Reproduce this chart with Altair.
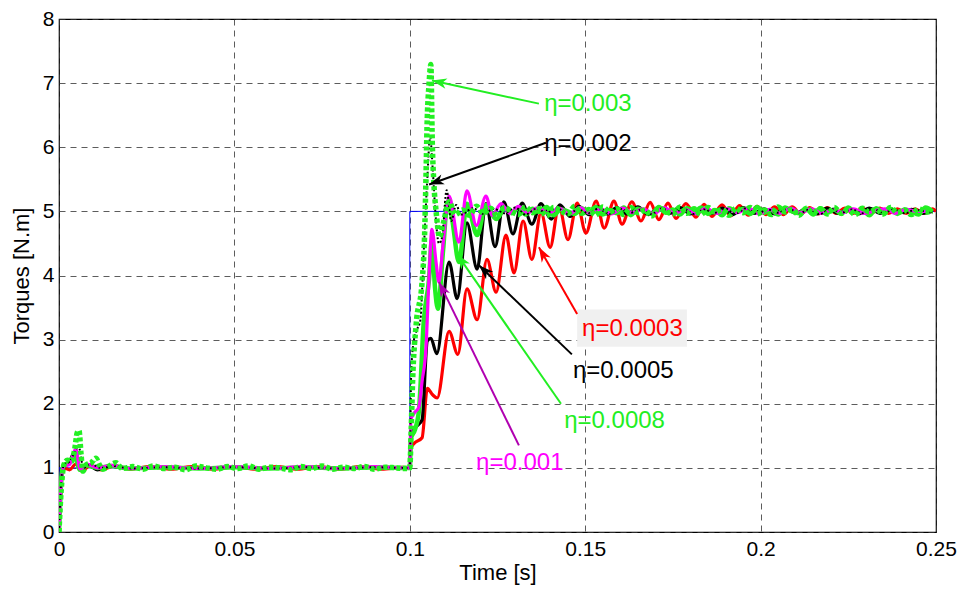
import math
import altair as alt
import pandas as pd

# ---------------- data ----------------
# reference torque (blue)
ref_t = [0.0, 0.0, 0.1, 0.1, 0.25]
ref_v = [0.0, 1.0, 1.0, 5.0, 5.0]

# eta = 0.0003 (red)
red_t = [0, 0.0008, 0.0015, 0.003, 0.0048, 0.0065, 0.009, 0.012, 0.016, 0.02,
         0.026, 0.032, 0.038, 0.044, 0.05, 0.056, 0.062, 0.068, 0.074, 0.08,
         0.086, 0.092, 0.098, 0.1,
         0.1003, 0.1012, 0.1035, 0.1050, 0.1065, 0.1078,
         0.1112, 0.1137, 0.1163, 0.1192, 0.1220, 0.1246, 0.1274, 0.1297, 0.1323, 0.1348,
         0.1374, 0.1400, 0.1425, 0.1451, 0.1477, 0.1502, 0.1531, 0.1554, 0.1582, 0.1605,
         0.1633, 0.1659, 0.1685, 0.1710, 0.1736, 0.1759, 0.1787, 0.1816, 0.1839, 0.1861,
         0.189, 0.1915, 0.194, 0.1965, 0.199, 0.2015, 0.204, 0.2065, 0.209, 0.2115,
         0.214, 0.2165, 0.219, 0.2215, 0.224, 0.2265, 0.229, 0.2315, 0.234, 0.2365,
         0.239, 0.2415, 0.244, 0.2465, 0.249, 0.25]
red_v = [0, 0.85, 1.0, 0.97, 1.06, 0.95, 1.04, 0.97, 1.03, 0.98,
         1.02, 0.98, 1.02, 0.98, 1.02, 0.98, 1.02, 0.98, 1.02, 0.98,
         1.02, 0.98, 1.01, 1.0,
         1.3, 1.38, 1.47, 2.24, 2.14, 2.09,
         3.13, 2.77, 3.79, 3.31, 4.25, 3.74, 4.63, 4.04, 4.85, 4.25,
         4.98, 4.44, 5.08, 4.56, 5.13, 4.66, 5.16, 4.74, 5.16, 4.8,
         5.15, 4.85, 5.14, 4.87, 5.13, 4.89, 5.12, 4.91, 5.11, 4.92,
         5.1, 4.93, 5.09, 4.94, 5.08, 4.95, 5.07, 4.95, 5.07, 4.96,
         5.06, 4.96, 5.06, 4.97, 5.05, 4.97, 5.05, 4.97, 5.05, 4.97,
         5.04, 4.97, 5.04, 4.97, 5.04, 5.0]

# eta = 0.0005 (black solid)
bk_t = [0, 0.0008, 0.0015, 0.003, 0.0045, 0.006, 0.008, 0.011, 0.015, 0.02,
        0.03, 0.04, 0.05, 0.06, 0.07, 0.08, 0.09, 0.098, 0.1,
        0.1003, 0.1020, 0.1035, 0.1050, 0.1060, 0.1077,
        0.1112, 0.1135, 0.1163, 0.1192, 0.1217, 0.1243, 0.1268, 0.1294, 0.1320, 0.1348,
        0.1374, 0.1403, 0.1428, 0.1457, 0.1482, 0.1511, 0.1536, 0.1562]
bk_v = [0, 0.9, 1.02, 1.1, 1.25, 1.0, 1.05, 0.97, 1.03, 0.99,
        1.01, 0.99, 1.01, 0.99, 1.01, 0.99, 1.01, 1.0, 1.0,
        1.5, 1.65, 1.75, 2.98, 3.02, 2.78,
        4.21, 3.64, 4.82, 4.10, 5.12, 4.45, 5.15, 4.65, 5.13, 4.80,
        5.12, 4.88, 5.1, 4.92, 5.08, 4.95, 5.07, 4.96]
bk_ss_t0, bk_ss_dt = 0.159, 0.003
bk_ss_v = [5.06, 4.96, 5.07, 4.95, 5.05, 4.97, 5.06, 4.96, 5.04, 4.97,
           5.05, 4.95, 5.06, 4.97, 5.04, 4.96, 5.05, 4.97, 5.04, 4.96,
           5.05, 4.97, 5.03, 4.96, 5.05, 4.97, 5.04, 4.98, 5.03, 4.97, 5.0]

# eta = 0.0008 (green solid)
gs_t = [0, 0.0008, 0.0015, 0.003, 0.0045, 0.006, 0.008, 0.011, 0.015, 0.02,
        0.03, 0.04, 0.05, 0.06, 0.07, 0.08, 0.09, 0.098, 0.1,
        0.1003, 0.1015, 0.1026, 0.1040, 0.1055, 0.1063, 0.1072, 0.1080, 0.1095, 0.1107,
        0.1120, 0.1140, 0.1163, 0.1192, 0.1217, 0.1246, 0.1270]
gs_v = [0, 0.9, 1.05, 1.08, 1.2, 0.97, 1.04, 1.0, 1.03, 0.99,
        1.01, 0.99, 1.01, 0.99, 1.01, 0.99, 1.01, 1.0, 1.0,
        1.45, 1.6, 1.89, 3.3, 3.95, 4.55, 3.8, 3.48, 4.4, 5.14,
        4.9, 4.21, 5.12, 4.63, 5.1, 4.88, 5.05]
gs_ss_t0, gs_ss_dt = 0.129, 0.002
gs_ss_v = [4.97, 5.06, 4.95, 5.04, 4.99, 5.07, 4.94, 5.03, 5.0, 4.96,
           5.05, 4.98, 5.07, 4.95, 5.02, 4.97, 5.06, 4.94, 5.04, 5.0,
           4.96, 5.07, 4.98, 5.03, 4.95, 5.05, 4.99, 5.06, 4.96, 5.02,
           4.94, 5.05, 4.99, 5.04, 4.96, 5.07, 4.98, 5.02, 4.95, 5.06,
           5.0, 4.97, 5.04, 4.95, 5.05, 4.98, 5.03, 4.96, 5.06, 4.99,
           5.02, 4.94, 5.05, 4.98, 5.04, 4.96, 5.03, 5.0, 4.95, 5.06, 5.0]

# eta = 0.001 (magenta)
mg_t = [0, 0.0008, 0.0015, 0.003, 0.0048, 0.006, 0.008, 0.011, 0.015, 0.02,
        0.03, 0.04, 0.05, 0.06, 0.07, 0.08, 0.09, 0.098, 0.1,
        0.1003, 0.1012, 0.1026, 0.1035, 0.1046, 0.1055, 0.1063, 0.1075, 0.1083, 0.1095,
        0.1112, 0.1140, 0.1163, 0.1190, 0.1217, 0.1235, 0.126, 0.1285, 0.131, 0.1335]
mg_v = [0, 0.88, 1.03, 1.05, 1.3, 0.98, 1.06, 1.0, 1.04, 0.99,
        1.02, 0.99, 1.02, 0.99, 1.02, 0.99, 1.02, 1.0, 1.0,
        1.75, 1.85, 1.95, 2.35, 2.86, 4.0, 4.72, 4.2, 3.9, 4.5,
        5.24, 4.52, 5.32, 4.78, 5.24, 4.94, 5.12, 4.97, 5.08, 4.98]
mg_ss_t0, mg_ss_dt = 0.1365, 0.003
mg_ss_v = [5.06, 4.97, 5.05, 4.96, 5.06, 4.97, 5.04, 4.96, 5.05, 4.98,
           5.04, 4.96, 5.06, 4.97, 5.03, 4.96, 5.05, 4.97, 5.04, 4.98,
           5.05, 4.96, 5.03, 4.97, 5.05, 4.98, 5.04, 4.97, 5.03, 4.98,
           5.04, 4.97, 5.01, 5.04, 4.97, 5.03, 5.0, 5.0]

# eta = 0.002 (black dotted)
bd_t = [0, 0.0008, 0.0015, 0.003, 0.0045, 0.0055, 0.007, 0.009, 0.012, 0.016,
        0.02, 0.03, 0.04, 0.05, 0.06, 0.07, 0.08, 0.09, 0.098, 0.1,
        0.1004, 0.1012, 0.1020, 0.1030, 0.1040, 0.1049, 0.1058, 0.1066, 0.1074, 0.1083,
        0.1092, 0.1105, 0.1118, 0.1132, 0.1146]
bd_v = [0, 0.9, 1.05, 1.1, 1.25, 1.35, 1.0, 1.06, 1.0, 1.03,
        0.99, 1.01, 0.99, 1.01, 0.99, 1.01, 0.99, 1.01, 1.0, 1.0,
        2.5, 3.0, 3.15, 3.3, 4.4, 5.42, 6.15, 5.6, 4.9, 4.5,
        4.6, 5.33, 4.85, 5.1, 4.95]
bd_ss_t0, bd_ss_dt = 0.118, 0.003
bd_ss_v = [5.05, 4.96, 5.04, 4.97, 5.06, 4.95, 5.04, 4.98, 5.05, 4.96,
           5.03, 4.97, 5.05, 4.96, 5.04, 4.98, 5.03, 4.96, 5.05, 4.97,
           5.04, 4.96, 5.03, 4.98, 5.04, 4.97, 5.05, 4.96, 5.03, 4.98,
           5.04, 4.97, 5.03, 4.96, 5.04, 4.98, 5.03, 4.97, 5.04, 4.98,
           5.03, 4.97, 5.02, 5.0]

# eta = 0.003 (green dotted)
gd_t = [0, 0.0004, 0.0009, 0.0014, 0.0024, 0.0036, 0.0045, 0.0052, 0.0057, 0.0063,
        0.0068, 0.0078, 0.0092, 0.0105, 0.0115, 0.0125, 0.014, 0.0162, 0.018]
gd_v = [0, 0.45, 0.85, 1.05, 1.12, 1.1, 1.3, 1.55, 1.58, 1.2,
        0.95, 1.05, 1.08, 1.15, 1.05, 0.98, 1.02, 1.08, 0.99]
gd_ss1_t0, gd_ss1_dt = 0.021, 0.003
gd_ss1_v = [1.02, 0.98, 1.03, 0.99, 1.01, 0.97, 1.03, 1.0, 0.98, 1.02,
            0.99, 1.03, 0.98, 1.01, 1.0, 0.97, 1.02, 0.99, 1.03, 0.98,
            1.01, 0.99, 1.02, 0.98, 1.01, 1.0, 0.99]
gd2_t = [0.1, 0.1004, 0.1008, 0.1018, 0.1035, 0.1042, 0.1046, 0.1049, 0.1055, 0.1060,
         0.1064, 0.1069, 0.1075, 0.1085, 0.1095, 0.1112, 0.1130]
gd2_v = [1.0, 1.6, 2.35, 3.23, 3.9, 4.6, 5.5, 6.3, 7.0, 7.29,
         6.1, 5.4, 5.0, 4.6, 4.8, 5.15, 4.95]
gd_ss2_t0, gd_ss2_dt = 0.115, 0.002
gd_ss2_v = [5.02, 4.94, 5.08, 4.97, 5.05, 4.92, 5.06, 5.0, 4.95, 5.07,
            4.98, 5.04, 4.93, 5.06, 5.01, 4.96, 5.08, 4.97, 5.03, 4.94,
            5.07, 4.99, 5.04, 4.95, 5.06, 4.98, 5.02, 4.93, 5.05, 5.0,
            4.96, 5.07, 4.97, 5.04, 4.95, 5.06, 4.99, 5.03, 4.94, 5.05,
            4.98, 5.06, 4.96, 5.02, 4.95, 5.07, 4.99, 5.03, 4.94, 5.05,
            4.98, 5.04, 4.96, 5.06, 4.97, 5.02, 4.95, 5.05, 4.99, 5.03,
            4.96, 5.06, 4.98, 5.02, 4.95, 5.04, 4.99, 5.0]

# annotations: label, text position, arrow start, arrow tip, colours
ann_label = ["η=0.003", "η=0.002", "η=0.0003", "η=0.0005", "η=0.0008", "η=0.001"]
ann_tx = [0.1383, 0.1383, 0.1491, 0.1465, 0.1440, 0.1189]
ann_ty = [6.68, 6.05, 3.16, 2.51, 1.73, 1.08]
ann_x0 = [0.1368, 0.1388, 0.1477, 0.1462, 0.1431, 0.1311]
ann_y0 = [6.68, 6.07, 3.40, 2.77, 2.00, 1.35]
ann_x1 = [0.1063, 0.1055, 0.1368, 0.1197, 0.1135, 0.1083]
ann_y1 = [7.04, 5.42, 4.44, 4.16, 4.33, 3.90]
ann_tcol = ["#22ee22", "#000000", "#ff0000", "#000000", "#22ee22", "#ff00ff"]
ann_lcol = ["#22ee22", "#000000", "#ff0000", "#000000", "#22ee22", "#b000b0"]

# light box behind eta=0.0003
box_x = [0.1477]
box_x2 = [0.1790]
box_y = [2.89]
box_y2 = [3.47]

# ---------------- build ----------------
T_MAX = 0.25
PLOT_W, PLOT_H = 877, 513
PX_PER_T = PLOT_W / 0.25
PX_PER_V = PLOT_H / 8


def frame(parts):
    ts, vs = [], []
    for kind, a, b, c in parts:
        if kind == "pts":
            ts += list(a)
            vs += list(b)
        else:  # regular grid of read values
            for k, v in enumerate(c):
                t = round(a + k * b, 6)
                if t <= T_MAX + 1e-9:
                    ts.append(t)
                    vs.append(v)
    n = min(len(ts), len(vs))
    return pd.DataFrame({"t": ts[:n], "v": vs[:n], "i": list(range(n))})


xenc = alt.X("t:Q", scale=alt.Scale(domain=[0, 0.25], nice=False, zero=False),
             axis=alt.Axis(values=[0, 0.05, 0.1, 0.15, 0.2, 0.25], format="~g",
                           title="Time [s]", grid=True, ticks=False, domain=False,
                           labelPadding=6, titlePadding=3, labelFlush=False))
yenc = alt.Y("v:Q", scale=alt.Scale(domain=[0, 8], nice=False),
             axis=alt.Axis(values=list(range(9)), format="d", title="Torques [N.m]",
                           grid=True, ticks=False, domain=False, labelPadding=5,
                           titlePadding=9, labelFlush=False))


def series(df, color, width, dash=None, interp="monotone"):
    kw = dict(color=color, strokeWidth=width, interpolate=interp, clip=True)
    if dash:
        kw["strokeDash"] = dash
    return alt.Chart(df).mark_line(**kw).encode(x=xenc, y=yenc, order="i:Q")


ref = series(frame([("pts", ref_t, ref_v, None)]), "#0000ff", 1, interp="linear")
red = series(frame([("pts", red_t, red_v, None)]), "#ff0000", 3.2)
blk = series(frame([("pts", bk_t, bk_v, None), ("grid", bk_ss_t0, bk_ss_dt, bk_ss_v)]), "#000000", 3.2)
gsl = series(frame([("pts", gs_t, gs_v, None), ("grid", gs_ss_t0, gs_ss_dt, gs_ss_v)]), "#22f022", 4.5)
mag = series(frame([("pts", mg_t, mg_v, None), ("grid", mg_ss_t0, mg_ss_dt, mg_ss_v)]), "#ff00ff", 3.2)
bdt = series(frame([("pts", bd_t, bd_v, None), ("grid", bd_ss_t0, bd_ss_dt, bd_ss_v)]), "#000000", 2, dash=[2, 2])
gdt = series(frame([("pts", gd_t, gd_v, None), ("grid", gd_ss1_t0, gd_ss1_dt, gd_ss1_v),
                    ("pts", gd2_t, gd2_v, None), ("grid", gd_ss2_t0, gd_ss2_dt, gd_ss2_v)]),
             "#22f022", 5.5, dash=[4, 2.5])

angles = []
for x0, y0, x1, y1 in zip(ann_x0, ann_y0, ann_x1, ann_y1):
    dx = (x1 - x0) * PX_PER_T
    dy = -(y1 - y0) * PX_PER_V
    angles.append(math.degrees(math.atan2(dx, -dy)) % 360)

ann = pd.DataFrame({"label": ann_label, "tx": ann_tx, "ty": ann_ty,
                    "x0": ann_x0, "y0": ann_y0, "x1": ann_x1, "y1": ann_y1,
                    "tcol": ann_tcol, "lcol": ann_lcol, "ang": angles})
box = pd.DataFrame({"x": box_x, "x2": box_x2, "y": box_y, "y2": box_y2})

boxes = alt.Chart(box).mark_rect(color="#f0f0f0").encode(
    x=alt.X("x:Q", scale=alt.Scale(domain=[0, 0.25], nice=False)), x2="x2:Q",
    y=alt.Y("y:Q", scale=alt.Scale(domain=[0, 8], nice=False)), y2="y2:Q")

rules = alt.Chart(ann).mark_rule(strokeWidth=2).encode(
    x="x0:Q", y="y0:Q", x2="x1:Q", y2="y1:Q",
    color=alt.Color("lcol:N", scale=None))

heads = alt.Chart(ann).mark_point(
    shape="M0,0L-0.7,2L0,1.45L0.7,2Z", filled=True, size=220, opacity=1).encode(
    x="x1:Q", y="y1:Q", angle=alt.Angle("ang:Q", scale=None),
    color=alt.Color("lcol:N", scale=None))

texts = alt.Chart(ann).mark_text(align="left", baseline="middle", fontSize=24,
                                 font="Liberation Sans").encode(
    x="tx:Q", y="ty:Q", text="label:N", color=alt.Color("tcol:N", scale=None))

chart = alt.layer(ref, red, blk, gsl, mag, bdt, gdt, boxes, rules, heads, texts).properties(
    width=PLOT_W, height=PLOT_H, autosize="none",
    padding={"left": 51, "top": 11, "right": 21, "bottom": 57},
    background="white",
).configure_view(stroke="black", strokeWidth=1.2).configure_axis(
    labelFont="Liberation Sans", titleFont="Liberation Sans",
    labelFontSize=21, titleFontSize=22, labelColor="black", titleColor="black",
    titleFontWeight="normal", gridColor="#333333", gridDash=[6, 5], gridWidth=1,
    gridOpacity=0.8)

chart.save("out.html", embed_options={"renderer": "svg", "actions": False})
